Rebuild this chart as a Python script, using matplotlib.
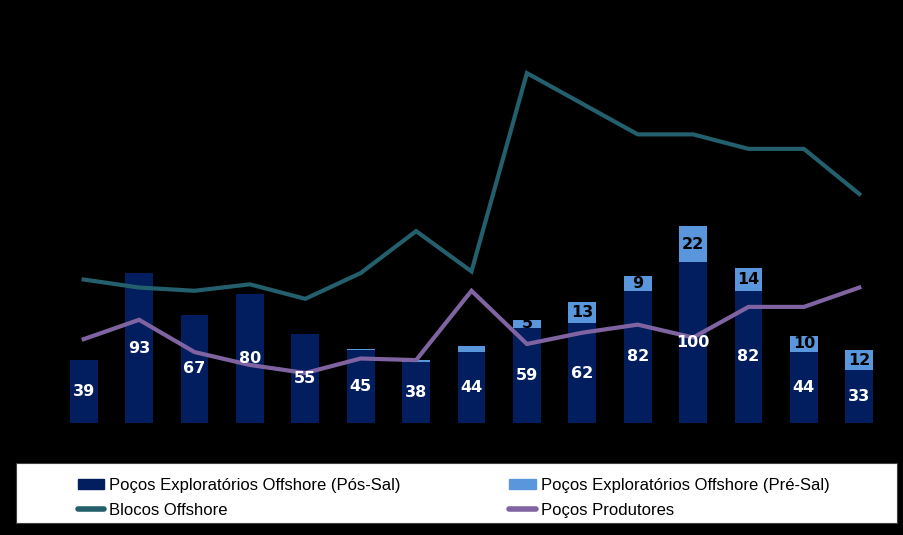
import matplotlib.pyplot as plt
from matplotlib.patches import Patch, Rectangle
from matplotlib.lines import Line2D
import numpy as np

# Data (15 periods, no axis labels shown)
pos_sal = [39, 93, 67, 80, 55, 45, 38, 44, 59, 62, 82, 100, 82, 44, 33]
pre_sal = [0, 0, 0, 0, 0, 1, 1, 4, 5, 13, 9, 22, 14, 10, 12]
blocos = [89, 84, 82, 86, 77, 93, 119, 94, 217, 198, 179, 179, 170, 170, 142]
produtores = [52, 64, 44, 36, 31, 40, 39, 82, 49, 56, 61, 53, 72, 72, 84]

NAVY = "#021E5E"
LIGHT = "#5A96DC"
TEAL = "#235F6C"
PURPLE = "#8064A2"

fig = plt.figure(figsize=(9.04, 5.35), dpi=100, facecolor="black")
ax = fig.add_axes([56 / 904, 112 / 535, 831 / 904, 387 / 535])
ax.set_facecolor("black")

x = np.arange(len(pos_sal))
ax.bar(x, pos_sal, width=0.5, color=NAVY)
ax.bar(x, pre_sal, width=0.5, bottom=pos_sal, color=LIGHT)
ax.plot(x, blocos, color=TEAL, lw=3.0, solid_joinstyle="miter", zorder=3)
ax.plot(x, produtores, color=PURPLE, lw=3.0, solid_joinstyle="miter", zorder=3)

for xi, p, q in zip(x, pos_sal, pre_sal):
    ax.text(xi, p / 2, str(p), ha="center", va="center", color="white",
            fontsize=11.5, fontweight="bold", zorder=4)
    if q >= 5:
        ax.text(xi, p + q / 2, str(q), ha="center", va="center", color="black",
                fontsize=11.5, fontweight="bold", zorder=4)

ax.set_xlim(-0.5, len(pos_sal) - 0.5)
ax.set_ylim(0, 240)
ax.axis("off")

# White legend box at the bottom
fig.patches.append(Rectangle((16 / 904, 12 / 535), 881 / 904, 60 / 535,
                             transform=fig.transFigure, facecolor="white",
                             edgecolor="#404040", lw=0.8))
handles = [
    Patch(color=NAVY),
    Line2D([], [], color=TEAL, lw=4, solid_capstyle="round"),
    Patch(color=LIGHT),
    Line2D([], [], color=PURPLE, lw=4, solid_capstyle="round"),
]
labels = [
    "Poços Exploratórios Offshore (Pós-Sal)",
    "Blocos Offshore",
    "Poços Exploratórios Offshore (Pré-Sal)",
    "Poços Produtores",
]
fig.legend(handles, labels, ncol=2, frameon=False, loc="upper left",
           bbox_to_anchor=(66 / 904, 1 - 466 / 535),
           prop={"family": "Liberation Sans", "size": 12},
           handlelength=1.6, handleheight=0.6, handletextpad=0.3,
           columnspacing=6.5, labelspacing=0.62, borderpad=0.2)

fig.savefig("out.png", dpi=100, facecolor="black")
